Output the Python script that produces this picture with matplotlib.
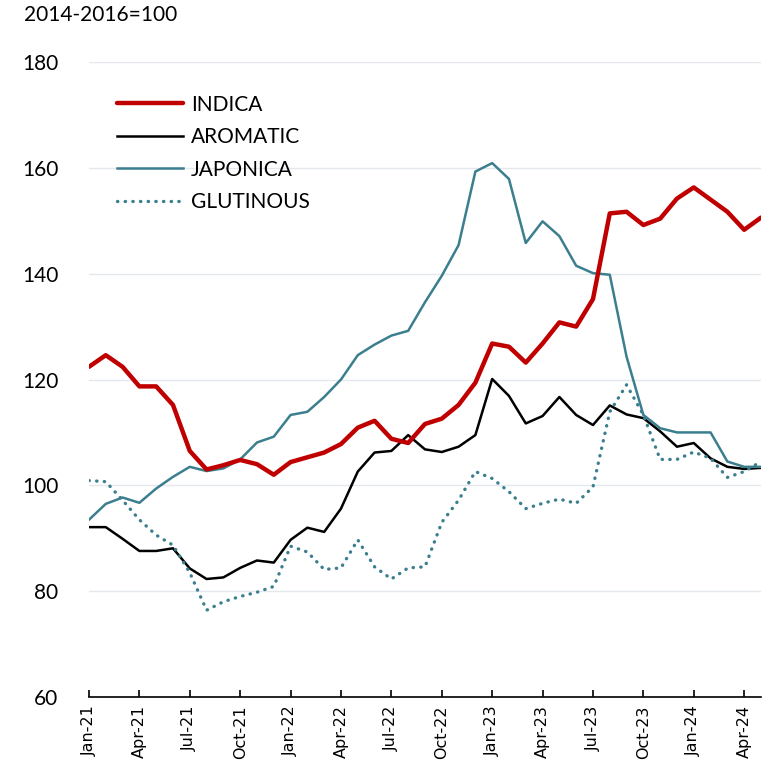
import matplotlib
matplotlib.use('Agg')
import matplotlib.pyplot as plt
import numpy as np

# monthly index, Jan-21 .. May-24
months = ['Jan-21', 'Feb-21', 'Mar-21', 'Apr-21', 'May-21', 'Jun-21', 'Jul-21', 'Aug-21', 'Sep-21',
          'Oct-21', 'Nov-21', 'Dec-21', 'Jan-22', 'Feb-22', 'Mar-22', 'Apr-22', 'May-22', 'Jun-22',
          'Jul-22', 'Aug-22', 'Sep-22', 'Oct-22', 'Nov-22', 'Dec-22', 'Jan-23', 'Feb-23', 'Mar-23',
          'Apr-23', 'May-23', 'Jun-23', 'Jul-23', 'Aug-23', 'Sep-23', 'Oct-23', 'Nov-23', 'Dec-23',
          'Jan-24', 'Feb-24', 'Mar-24', 'Apr-24', 'May-24']

indica = [122.4, 124.6, 122.4, 118.7, 118.7, 115.2, 106.5, 103.0, 103.8, 104.8, 104.0, 102.0,
          104.4, 105.3, 106.2, 107.8, 110.9, 112.2, 108.8, 108.0, 111.6, 112.6, 115.2, 119.4,
          126.8, 126.2, 123.2, 126.8, 130.8, 130.0, 135.2, 151.4, 151.7, 149.2, 150.4, 154.2,
          156.3, 154.0, 151.7, 148.3, 150.6]

aromatic = [92.1, 92.1, 89.9, 87.6, 87.6, 88.1, 84.3, 82.3, 82.6, 84.4, 85.8, 85.4,
            89.7, 92.0, 91.2, 95.6, 102.6, 106.2, 106.5, 109.5, 106.8, 106.3, 107.3, 109.5,
            120.1, 116.9, 111.7, 113.1, 116.7, 113.3, 111.4, 115.1, 113.4, 112.7, 110.2, 107.3,
            108.0, 105.1, 103.5, 103.1, 103.3]

japonica = [93.5, 96.5, 97.7, 96.7, 99.4, 101.6, 103.5, 102.7, 103.2, 104.9, 108.1, 109.2,
            113.3, 113.9, 116.7, 120.0, 124.6, 126.6, 128.3, 129.2, 134.6, 139.6, 145.4, 159.3,
            160.9, 157.9, 145.8, 149.9, 147.1, 141.5, 140.1, 139.8, 124.3, 113.3, 110.8, 110.0,
            110.0, 110.0, 104.5, 103.5, 103.5]

glutinous = [100.9, 100.7, 97.2, 93.5, 90.6, 88.7, 83.5, 76.4, 78.0, 79.0, 79.8, 80.9,
             88.5, 87.4, 84.1, 84.4, 89.7, 84.6, 82.3, 84.4, 84.6, 93.0, 97.2, 102.6,
             101.3, 98.8, 95.6, 96.6, 97.4, 96.6, 99.7, 113.9, 119.0, 113.3, 104.9, 104.9,
             106.3, 105.1, 101.5, 102.6, 104.5]

x = np.arange(len(months))

plt.rcParams['font.family'] = ['Lato', 'DejaVu Sans']

fig = plt.figure(figsize=(7.71, 7.63), dpi=100)
ax = fig.add_axes([0.1154, 0.0865, 0.8716, 0.8322])

teal = '#3B7F8F'
ax.plot(x, indica, color='#C00000', lw=3.2, label='INDICA', solid_capstyle='round', zorder=4)
ax.plot(x, aromatic, color='black', lw=1.8, label='AROMATIC', zorder=3)
ax.plot(x, japonica, color=teal, lw=1.8, label='JAPONICA', zorder=3)
ax.plot(x, glutinous, color=teal, lw=2.4, linestyle=(0, (0.1, 2.2)),
        dash_capstyle='round', label='GLUTINOUS', zorder=3)

ax.set_ylim(60, 180)
ax.set_xlim(0, 40)
ax.set_yticks(np.arange(60, 181, 20))
ax.grid(axis='y', color='#E4E8EC', lw=1)
ax.set_axisbelow(True)

ax.set_xticks(x[::3])
ax.set_xticklabels(months[::3], rotation=90, fontsize=11.5, family='DejaVu Sans')
ax.tick_params(axis='x', direction='in', length=5, width=1.2, pad=6)
ax.tick_params(axis='y', length=0, labelsize=15, pad=22)

for s in ['top', 'right', 'left']:
    ax.spines[s].set_visible(False)
ax.spines['bottom'].set_linewidth(1.2)

fig.text(0.031, 0.993, '2014-2016=100', fontsize=15, va='top', ha='left')

ax.legend(loc='upper left', bbox_to_anchor=(0.014, 0.978), frameon=False, fontsize=15,
          handlelength=3.15, handletextpad=0.4, labelspacing=0.6)

fig.savefig('out.png', dpi=100)
